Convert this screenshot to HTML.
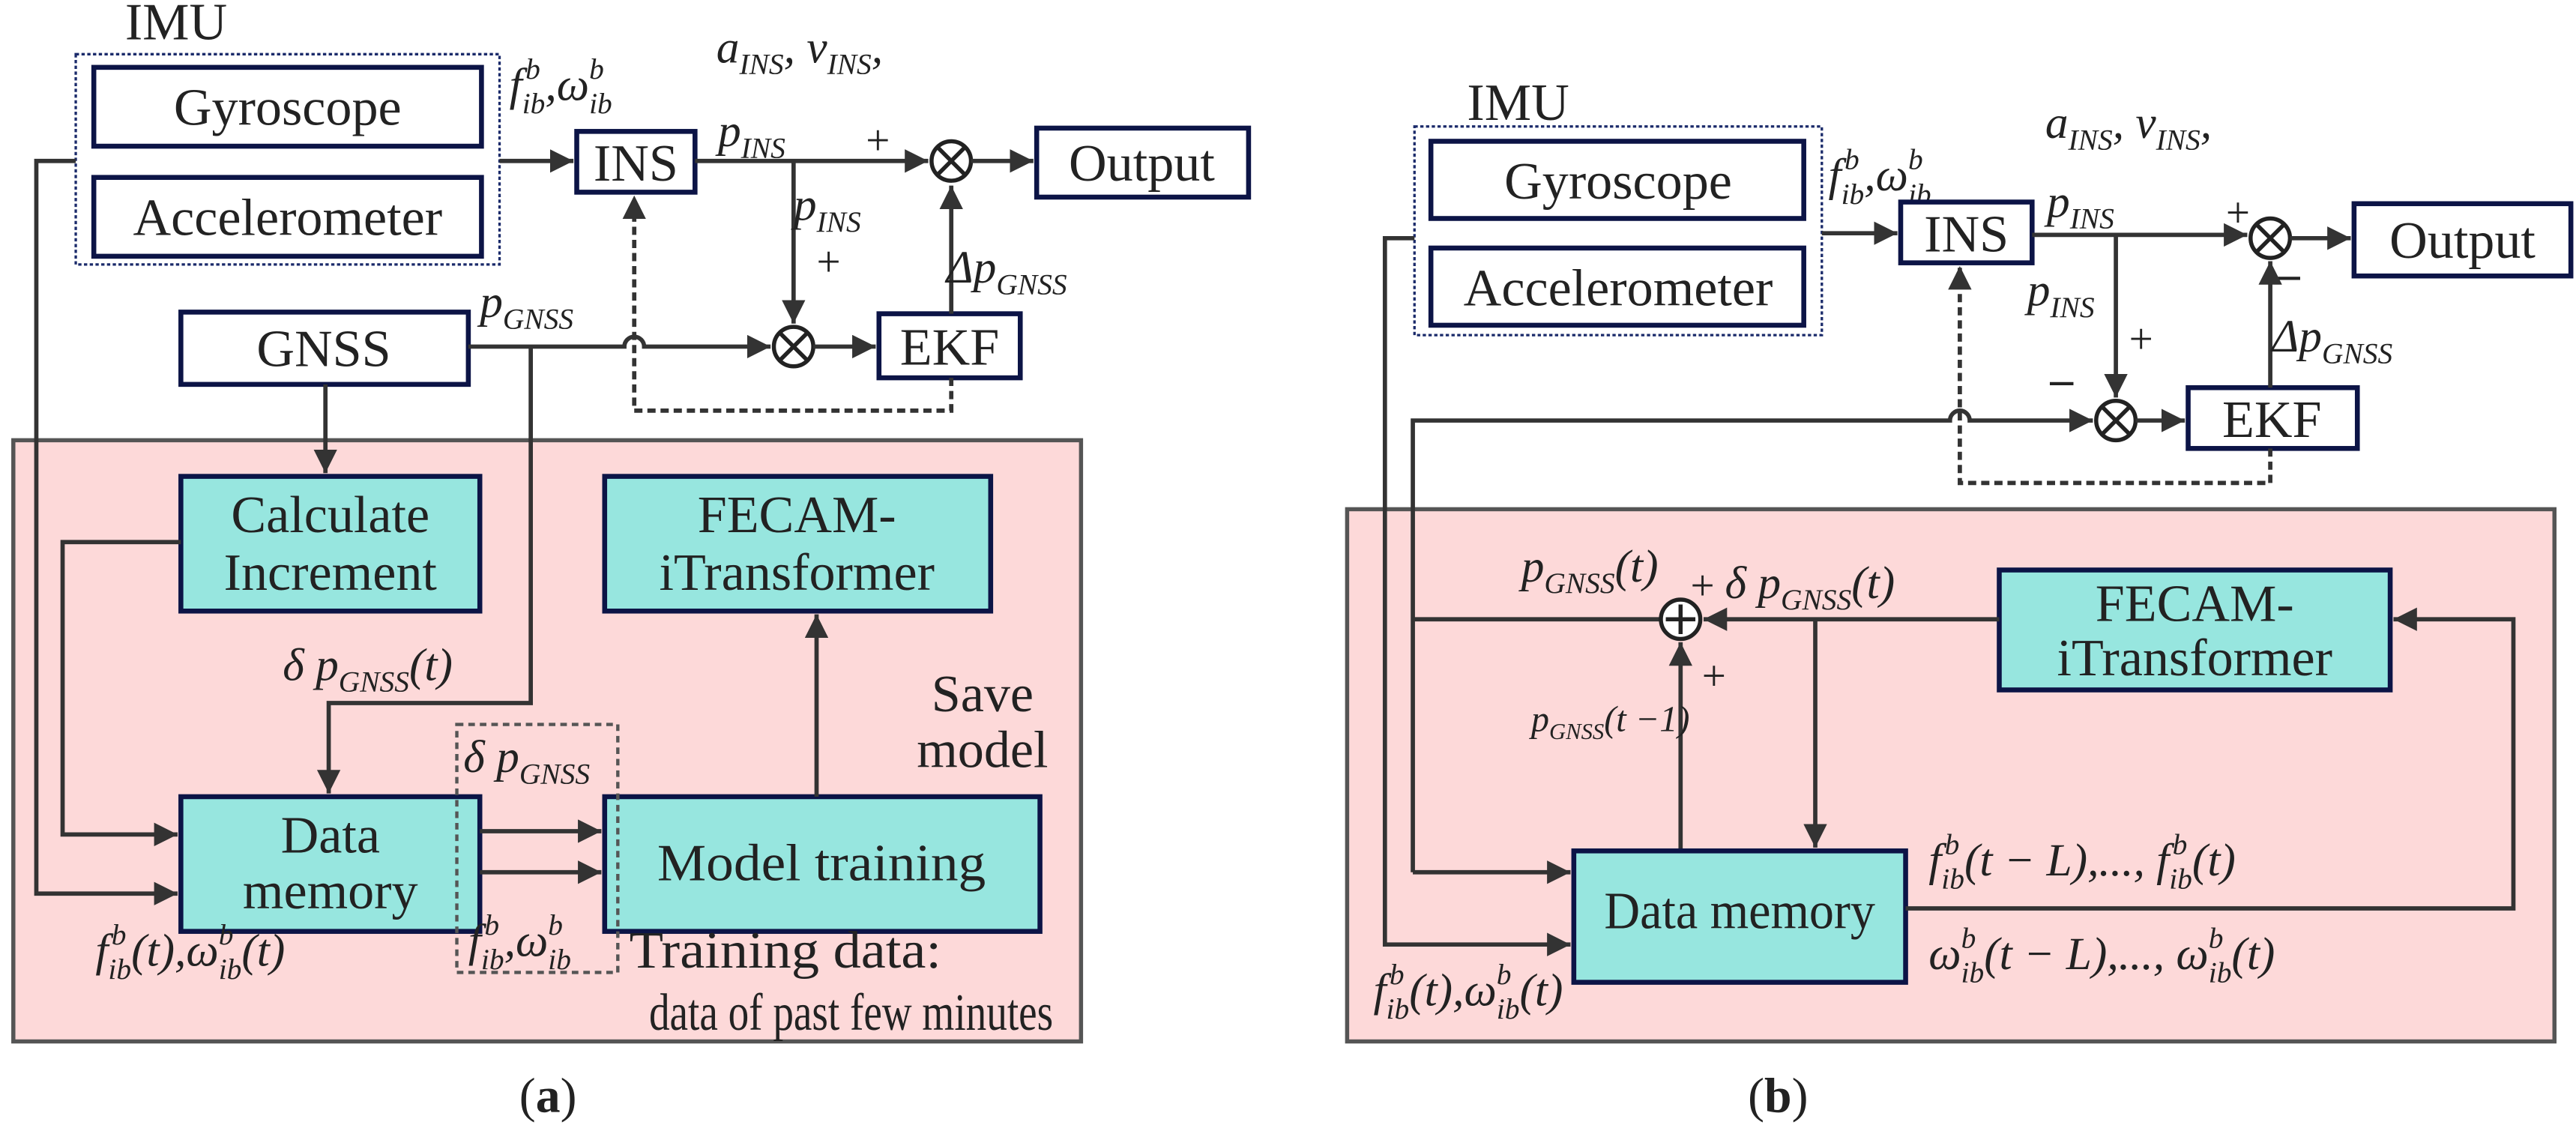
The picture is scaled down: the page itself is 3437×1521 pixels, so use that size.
<!DOCTYPE html>
<html><head><meta charset="utf-8"><style>
html,body{margin:0;padding:0;background:#fff}
svg{display:block}
text{font-family:"Liberation Serif",serif;fill:#222}
.b{font-size:32px}
.m{font-size:28px;font-style:italic}
.s{font-size:18px}
.ln{stroke:#333;stroke-width:2.6;fill:none}
.bx{fill:#fff;stroke:#0c1446;stroke-width:3}
.tl{fill:#97e6df;stroke:#0c1446;stroke-width:3}
</style></head><body>
<svg width="3437" height="1521" viewBox="0 0 1568 694" xmlns="http://www.w3.org/2000/svg">
<defs>
<marker id="ar" viewBox="0 0 10 10" refX="10" refY="5" markerWidth="5.5" markerHeight="5.5" orient="auto" markerUnits="strokeWidth"><path d="M0,0 L10,5 L0,10 z" fill="#333"/></marker>
</defs>

<!-- ============ (a) ============ -->
<rect x="8" y="268" width="650" height="366" fill="#fdd9d9" stroke="#555" stroke-width="2.5"/>
<text x="76" y="24" class="b">IMU</text>
<rect x="46" y="33" width="258" height="128" fill="#fff" stroke="#1a2a6a" stroke-width="1.5" stroke-dasharray="2,1.5"/>
<rect x="57" y="41" width="236" height="48" class="bx"/>
<text x="175" y="76" class="b" text-anchor="middle">Gyroscope</text>
<rect x="57" y="108" width="236" height="48" class="bx"/>
<text x="175" y="143" class="b" text-anchor="middle">Accelerometer</text>

<text x="310" y="61" class="m">f<tspan class="s" dx="2" dy="-13">b</tspan><tspan class="s" dx="-11" dy="21">ib</tspan><tspan dy="-8">,</tspan>ω<tspan class="s" dy="-13">b</tspan><tspan class="s" dx="-9" dy="21">ib</tspan></text>
<text x="436" y="38" class="m">a<tspan class="s" dy="7">INS</tspan><tspan dy="-7">, </tspan>v<tspan class="s" dy="7">INS</tspan><tspan dy="-7">,</tspan></text>
<text x="437" y="89" class="m">p<tspan class="s" dy="7">INS</tspan></text>

<rect x="351" y="80" width="72" height="37" class="bx"/>
<text x="387" y="110" class="b" text-anchor="middle">INS</text>
<rect x="631" y="78" width="129" height="42" class="bx"/>
<text x="695" y="110" class="b" text-anchor="middle">Output</text>
<rect x="110" y="190" width="175" height="44" class="bx"/>
<text x="197" y="223" class="b" text-anchor="middle">GNSS</text>
<rect x="535" y="191" width="86" height="39" class="bx"/>
<text x="578" y="222" class="b" text-anchor="middle">EKF</text>

<path class="ln" d="M304,98 H349" marker-end="url(#ar)"/>
<path class="ln" d="M423,98 H565" marker-end="url(#ar)"/>
<circle cx="579" cy="98" r="12" fill="#fff" stroke="#222" stroke-width="2.5"/>
<path d="M571,90 L587,106 M587,90 L571,106" stroke="#222" stroke-width="2.5"/>
<path class="ln" d="M591,98 H629" marker-end="url(#ar)"/>
<text x="527" y="94" font-size="26">+</text>
<path class="ln" d="M483,98 V197" marker-end="url(#ar)"/>
<text x="483" y="134" class="m">p<tspan class="s" dy="7">INS</tspan></text>
<text x="497" y="168" font-size="26">+</text>
<circle cx="483" cy="211" r="12" fill="#fff" stroke="#222" stroke-width="2.5"/>
<path d="M475,203 L491,219 M491,203 L475,219" stroke="#222" stroke-width="2.5"/>
<path class="ln" d="M495,211 H533" marker-end="url(#ar)"/>
<path class="ln" d="M579,191 V113" marker-end="url(#ar)"/>
<text x="576" y="172" class="m">Δp<tspan class="s" dy="7">GNSS</tspan></text>
<path class="ln" d="M285,211 H380 A6,6 0 0 1 392,211 H469" marker-end="url(#ar)"/>
<text x="292" y="193" class="m">p<tspan class="s" dy="7">GNSS</tspan></text>
<path d="M579,230 V250 H386 V119" fill="none" stroke="#333" stroke-width="2.6" stroke-dasharray="5,3" marker-end="url(#ar)"/>

<path class="ln" d="M46,98 H22 V544 H108" marker-end="url(#ar)"/>
<path class="ln" d="M198,234 V288" marker-end="url(#ar)"/>
<path class="ln" d="M323,211 V428 H200 V483" marker-end="url(#ar)"/>
<text x="172" y="414" class="m">δ p<tspan class="s" dy="7">GNSS</tspan><tspan dy="-7">(t)</tspan></text>

<rect x="110" y="290" width="182" height="82" class="tl"/>
<text x="201" y="324" class="b" text-anchor="middle">Calculate</text>
<text x="201" y="359" class="b" text-anchor="middle">Increment</text>
<rect x="368" y="290" width="235" height="82" class="tl"/>
<text x="485" y="324" class="b" text-anchor="middle">FECAM-</text>
<text x="485" y="359" class="b" text-anchor="middle">iTransformer</text>
<path class="ln" d="M110,330 H38 V508 H108" marker-end="url(#ar)"/>
<rect x="110" y="485" width="182" height="82" class="tl"/>
<text x="201" y="519" class="b" text-anchor="middle">Data</text>
<text x="201" y="553" class="b" text-anchor="middle">memory</text>
<rect x="368" y="485" width="265" height="82" class="tl"/>
<text x="500" y="536" class="b" text-anchor="middle" textLength="200" lengthAdjust="spacingAndGlyphs">Model training</text>
<path class="ln" d="M292,506 H366" marker-end="url(#ar)"/>
<path class="ln" d="M292,531 H366" marker-end="url(#ar)"/>
<path class="ln" d="M497,485 V374" marker-end="url(#ar)"/>
<text x="598" y="433" class="b" text-anchor="middle">Save</text>
<text x="598" y="467" class="b" text-anchor="middle">model</text>
<rect x="278" y="441" width="98" height="151" fill="none" stroke="#555" stroke-width="2" stroke-dasharray="4,3"/>
<text x="282" y="470" class="m">δ p<tspan class="s" dy="7">GNSS</tspan></text>
<text x="285" y="582" class="m">f<tspan class="s" dx="2" dy="-13">b</tspan><tspan class="s" dx="-11" dy="21">ib</tspan><tspan dy="-8">,</tspan>ω<tspan class="s" dy="-13">b</tspan><tspan class="s" dx="-9" dy="21">ib</tspan></text>
<text x="58" y="588" class="m">f<tspan class="s" dx="2" dy="-13">b</tspan><tspan class="s" dx="-11" dy="21">ib</tspan><tspan dy="-8">(t),</tspan>ω<tspan class="s" dy="-13">b</tspan><tspan class="s" dx="-9" dy="21">ib</tspan><tspan dy="-8">(t)</tspan></text>
<text x="383" y="589" class="b" textLength="190" lengthAdjust="spacingAndGlyphs">Training data:</text>
<text x="395" y="627" class="b" textLength="246" lengthAdjust="spacingAndGlyphs">data of past few minutes</text>
<text x="316" y="677" font-size="30">(<tspan font-weight="bold">a</tspan>)</text>

<!-- ============ (b) ============ -->
<rect x="820" y="310" width="735" height="324" fill="#fdd9d9" stroke="#555" stroke-width="2.5"/>
<text x="893" y="73" class="b">IMU</text>
<rect x="861" y="77" width="248" height="127" fill="#fff" stroke="#1a2a6a" stroke-width="1.5" stroke-dasharray="2,1.5"/>
<rect x="871" y="86" width="227" height="47" class="bx"/>
<text x="985" y="121" class="b" text-anchor="middle">Gyroscope</text>
<rect x="871" y="151" width="227" height="47" class="bx"/>
<text x="985" y="186" class="b" text-anchor="middle">Accelerometer</text>
<text x="1113" y="116" class="m">f<tspan class="s" dx="2" dy="-13">b</tspan><tspan class="s" dx="-11" dy="21">ib</tspan><tspan dy="-8">,</tspan>ω<tspan class="s" dy="-13">b</tspan><tspan class="s" dx="-9" dy="21">ib</tspan></text>
<text x="1245" y="84" class="m">a<tspan class="s" dy="7">INS</tspan><tspan dy="-7">, </tspan>v<tspan class="s" dy="7">INS</tspan><tspan dy="-7">,</tspan></text>
<text x="1246" y="132" class="m">p<tspan class="s" dy="7">INS</tspan></text>

<rect x="1157" y="123" width="80" height="37" class="bx"/>
<text x="1197" y="153" class="b" text-anchor="middle">INS</text>
<rect x="1433" y="124" width="132" height="44" class="bx"/>
<text x="1499" y="157" class="b" text-anchor="middle">Output</text>
<rect x="1332" y="236" width="103" height="37" class="bx"/>
<text x="1383" y="266" class="b" text-anchor="middle">EKF</text>

<path class="ln" d="M1109,142 H1155" marker-end="url(#ar)"/>
<path class="ln" d="M1237,143 H1368" marker-end="url(#ar)"/>
<circle cx="1382" cy="145" r="12" fill="#fff" stroke="#222" stroke-width="2.5"/>
<path d="M1374,137 L1390,153 M1390,137 L1374,153" stroke="#222" stroke-width="2.5"/>
<path class="ln" d="M1394,145 H1431" marker-end="url(#ar)"/>
<text x="1355" y="138" font-size="26">+</text>
<text x="1386" y="176" font-size="28" font-weight="bold">–</text>
<path class="ln" d="M1288,143 V242" marker-end="url(#ar)"/>
<text x="1234" y="186" class="m">p<tspan class="s" dy="7">INS</tspan></text>
<text x="1296" y="215" font-size="26">+</text>
<text x="1248" y="240" font-size="28" font-weight="bold">–</text>
<circle cx="1288" cy="256" r="12" fill="#fff" stroke="#222" stroke-width="2.5"/>
<path d="M1280,248 L1296,264 M1296,248 L1280,264" stroke="#222" stroke-width="2.5"/>
<path class="ln" d="M1300,256 H1330" marker-end="url(#ar)"/>
<path class="ln" d="M1382,236 V159" marker-end="url(#ar)"/>
<text x="1383" y="214" class="m">Δp<tspan class="s" dy="7">GNSS</tspan></text>
<path d="M1382,273 V294 H1193 V162" fill="none" stroke="#333" stroke-width="2.6" stroke-dasharray="5,3" marker-end="url(#ar)"/>
<path class="ln" d="M860,531 V256 H1187 A6,6 0 0 1 1199,256 H1274" marker-end="url(#ar)"/>
<path class="ln" d="M860,531 H956" marker-end="url(#ar)"/>
<path class="ln" d="M861,145 H843 V575 H956" marker-end="url(#ar)"/>

<rect x="1217" y="347" width="238" height="73" class="tl"/>
<text x="1336" y="378" class="b" text-anchor="middle">FECAM-</text>
<text x="1336" y="411" class="b" text-anchor="middle">iTransformer</text>
<path class="ln" d="M1217,377 H1037" marker-end="url(#ar)"/>
<path class="ln" d="M1011,377 H860"/>
<circle cx="1023" cy="377" r="12" fill="#fff" stroke="#222" stroke-width="2.5"/>
<path d="M1014,377 H1032 M1023,368 V386" stroke="#222" stroke-width="2.5"/>
<path class="ln" d="M1105,377 V516" marker-end="url(#ar)"/>
<path class="ln" d="M1023,518 V391" marker-end="url(#ar)"/>
<text x="926" y="354" class="m">p<tspan class="s" dy="7">GNSS</tspan><tspan dy="-7">(t)</tspan></text>
<text x="1029" y="365" font-size="26">+</text>
<text x="1050" y="364" class="m">δ p<tspan class="s" dy="7">GNSS</tspan><tspan dy="-7">(t)</tspan></text>
<text x="1036" y="420" font-size="26">+</text>
<text x="932" y="445" font-size="22" font-style="italic">p<tspan font-size="14" dy="5">GNSS</tspan><tspan dy="-5">(t −1)</tspan></text>

<rect x="958" y="518" width="202" height="80" class="tl"/>
<text x="1059" y="565" class="b" text-anchor="middle" textLength="165" lengthAdjust="spacingAndGlyphs">Data memory</text>
<path class="ln" d="M1160,553 H1530 V377 H1457" marker-end="url(#ar)"/>
<text x="1174" y="533" class="m">f<tspan class="s" dx="2" dy="-13">b</tspan><tspan class="s" dx="-11" dy="21">ib</tspan><tspan dy="-8">(t − L),..., </tspan>f<tspan class="s" dx="2" dy="-13">b</tspan><tspan class="s" dx="-11" dy="21">ib</tspan><tspan dy="-8">(t)</tspan></text>
<text x="1174" y="590" class="m">ω<tspan class="s" dy="-13">b</tspan><tspan class="s" dx="-9" dy="21">ib</tspan><tspan dy="-8">(t − L),..., </tspan>ω<tspan class="s" dy="-13">b</tspan><tspan class="s" dx="-9" dy="21">ib</tspan><tspan dy="-8">(t)</tspan></text>
<text x="836" y="612" class="m">f<tspan class="s" dx="2" dy="-13">b</tspan><tspan class="s" dx="-11" dy="21">ib</tspan><tspan dy="-8">(t),</tspan>ω<tspan class="s" dy="-13">b</tspan><tspan class="s" dx="-9" dy="21">ib</tspan><tspan dy="-8">(t)</tspan></text>
<text x="1064" y="677" font-size="30">(<tspan font-weight="bold">b</tspan>)</text>
</svg>
</body></html>
